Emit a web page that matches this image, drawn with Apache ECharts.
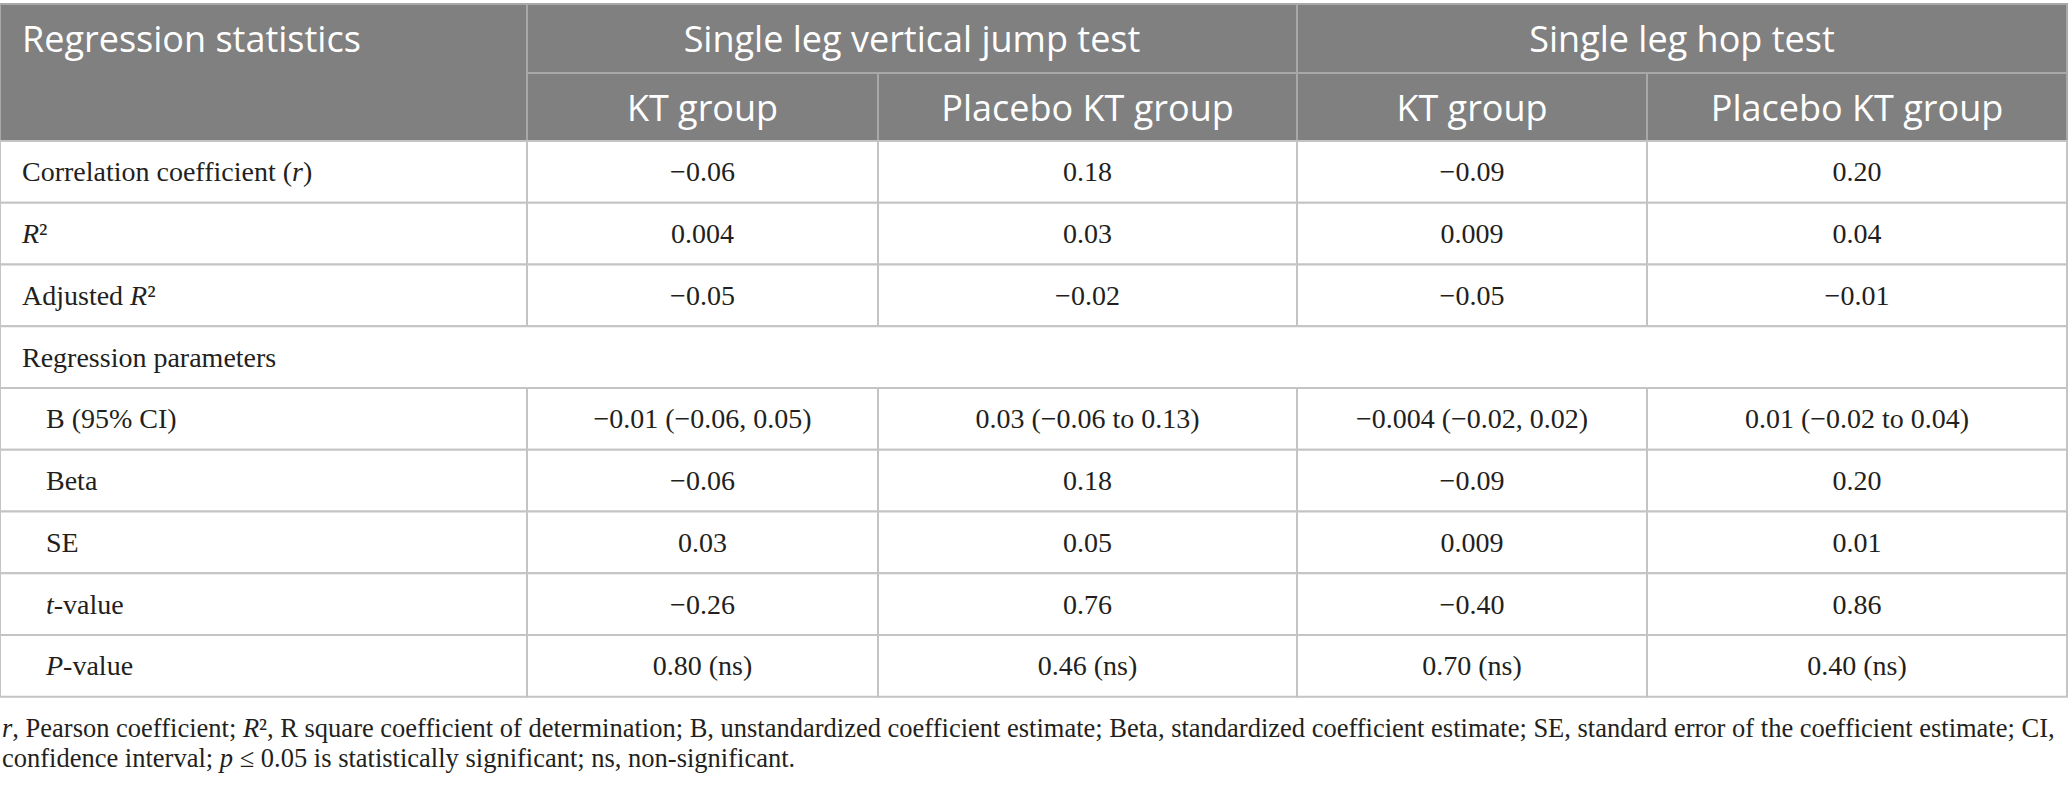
<!DOCTYPE html>
<html>
<head>
<meta charset="utf-8">
<script src="https://cdn.jsdelivr.net/npm/echarts@6/dist/echarts.min.js"></script>
<style>
  html, body { margin: 0; padding: 0; background: #fff; }
  #main { width: 2068px; height: 789px; }
</style>
</head>
<body>
<div id="main"></div>
<script type="text/javascript">
    // table content
    var cornerTitle = 'Regression statistics';
    var testNames = ['Single leg vertical jump test', 'Single leg hop test'];
    var groupNames = ['KT group', 'Placebo KT group'];
    var rowLabels = ['Correlation coefficient ({i|r})', '{i|R}²', 'Adjusted {i|R}²', 'Regression parameters',
        'B (95% CI)', 'Beta', 'SE', '{i|t}-value', '{i|P}-value'];
    var rowIndent = [0, 0, 0, 0, 1, 1, 1, 1, 1];
    var rowSpansAll = [0, 0, 0, 1, 0, 0, 0, 0, 0];
    var ktVertical = ['−0.06', '0.004', '−0.05', '', '−0.01 (−0.06, 0.05)', '−0.06', '0.03', '−0.26', '0.80 (ns)'];
    var placeboVertical = ['0.18', '0.03', '−0.02', '', '0.03 (−0.06 to 0.13)', '0.18', '0.05', '0.76', '0.46 (ns)'];
    var ktHop = ['−0.09', '0.009', '−0.05', '', '−0.004 (−0.02, 0.02)', '−0.09', '0.009', '−0.40', '0.70 (ns)'];
    var placeboHop = ['0.20', '0.04', '−0.01', '', '0.01 (−0.02 to 0.04)', '0.20', '0.01', '0.86', '0.40 (ns)'];
    var footnoteLines = [
        '{i|r}, Pearson coefficient; {i|R}², R square coefficient of determination; B, unstandardized coefficient estimate; Beta, standardized coefficient estimate; SE, standard error of the coefficient estimate; CI,',
        'confidence interval; {i|p} ≤ 0.05 is statistically significant; ns, non-significant.'
    ];

    // layout (pixels)
    var colEdges = [0, 527, 878, 1297, 1647, 2067];
    var headTop = 4, headMid = 73, headBottom = 141;
    var rowHeight = 61.75;
    var serif = '"Liberation Serif", "Times New Roman", serif';
    var sans = '"Open Sans", "Noto Sans", sans-serif';

    // fit the first footnote line to the page width
    var ctx = document.createElement('canvas').getContext('2d');
    ctx.font = '100px ' + serif;
    var plain = footnoteLines[0].replace(/\{i\|([^}]*)\}/g, '$1');
    var footSize = Math.min(27, Math.floor(100 * 2056 / ctx.measureText(plain).width * 10) / 10);

    var valueCols = [ktVertical, placeboVertical, ktHop, placeboHop];
    var cells = [];
    cells.push({x0: 0, x1: colEdges[1], y0: headTop, y1: headBottom, text: cornerTitle, head: true, left: 22, ty: (headTop + headMid) / 2});
    testNames.forEach(function (name, t) {
        cells.push({x0: colEdges[1 + 2 * t], x1: colEdges[3 + 2 * t], y0: headTop, y1: headMid, text: name, head: true});
        groupNames.forEach(function (g, k) {
            cells.push({x0: colEdges[1 + 2 * t + k], x1: colEdges[2 + 2 * t + k], y0: headMid, y1: headBottom, text: g, head: true});
        });
    });
    rowLabels.forEach(function (label, r) {
        var y0 = headBottom + r * rowHeight, y1 = y0 + rowHeight;
        if (rowSpansAll[r]) {
            cells.push({x0: 0, x1: colEdges[5], y0: y0, y1: y1, text: label, left: 22});
            return;
        }
        cells.push({x0: 0, x1: colEdges[1], y0: y0, y1: y1, text: label, left: rowIndent[r] ? 46 : 22});
        valueCols.forEach(function (col, c) {
            cells.push({x0: colEdges[c + 1], x1: colEdges[c + 2], y0: y0, y1: y1, text: col[r]});
        });
    });

    var chart = echarts.init(document.getElementById('main'), null, {renderer: 'svg'});
    var option = {
        animation: false,
        grid: {left: 0, right: 0, top: 0, bottom: 0},
        xAxis: {type: 'value', min: 0, max: 2068, show: false},
        yAxis: {type: 'value', min: 0, max: 789, inverse: true, show: false},
        graphic: [{
            type: 'text',
            left: 2,
            top: 713,
            style: {
                text: footnoteLines.join('\n'),
                fontFamily: serif,
                fontSize: footSize,
                lineHeight: 30,
                fill: '#231f20',
                rich: {
                    i: {fontFamily: serif, fontSize: footSize, fontStyle: 'italic', fill: '#231f20', lineHeight: 30}
                }
            }
        }],
        series: [{
            type: 'custom',
            coordinateSystem: 'cartesian2d',
            data: cells.map(function (c) { return [c.x0, c.y0, c.x1, c.y1]; }),
            renderItem: function (params, api) {
                var c = cells[params.dataIndex];
                var p0 = api.coord([api.value(0), api.value(1)]);
                var p1 = api.coord([api.value(2), api.value(3)]);
                var ty = c.ty != null ? api.coord([0, c.ty])[1] : (p0[1] + p1[1]) / 2;
                var font = c.head ? sans : serif;
                var size = c.head ? 36 : 28;
                var color = c.head ? '#ffffff' : '#231f20';
                return {
                    type: 'group',
                    children: [{
                        type: 'rect',
                        shape: {x: p0[0], y: p0[1], width: p1[0] - p0[0], height: p1[1] - p0[1]},
                        style: {fill: c.head ? '#808080' : '#ffffff', stroke: c.head ? '#a8a8a8' : '#c4c4c4', lineWidth: 2}
                    }, {
                        type: 'text',
                        style: {
                            text: c.text,
                            x: c.left != null ? p0[0] + c.left : (p0[0] + p1[0]) / 2,
                            y: ty,
                            align: c.left != null ? 'left' : 'center',
                            verticalAlign: 'middle',
                            fontFamily: font,
                            fontSize: size,
                            fill: color,
                            rich: {
                                i: {fontFamily: font, fontSize: size, fontStyle: 'italic', fill: color}
                            }
                        }
                    }]
                };
            }
        }]
    };
    chart.setOption(option);
</script>
</body>
</html>
